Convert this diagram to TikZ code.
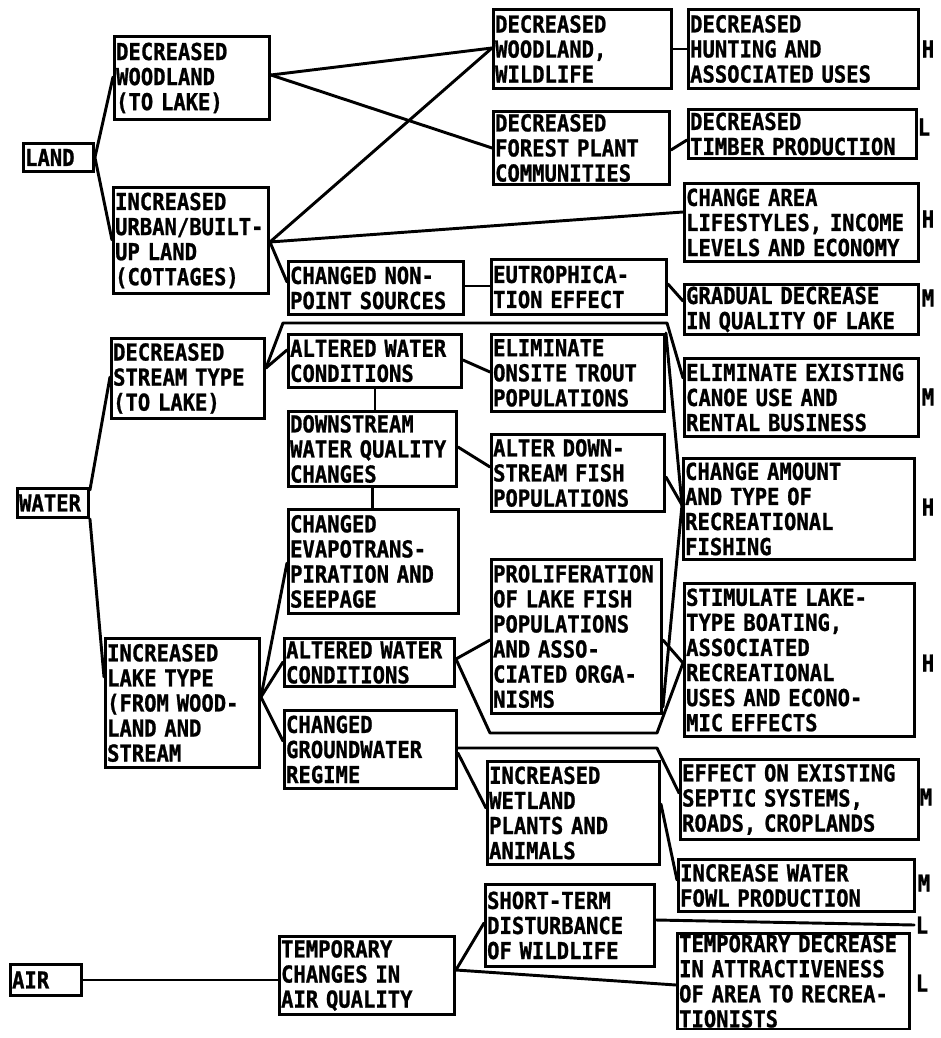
\documentclass[tikz,border=0pt]{standalone}
\usepackage{fontspec}
\newfontfamily\boxfont{DejaVu Sans Mono}[FakeStretch=0.88, BoldFeatures={FakeBold=1}]
\usetikzlibrary{calc}
\tikzset{
  box/.style={draw, line width=2.2pt, rectangle, inner xsep=1pt, inner ysep=1pt,
    align=left, anchor=north west,
    font=\boxfont\bfseries\fontsize{17.5}{18.8}\selectfont},
  conn/.style={line width=2.2pt, line join=round, line cap=round},
  rate/.style={inner sep=1pt, font=\boxfont\bfseries\fontsize{17.5}{18.8}\selectfont}
}
\newcommand\mkbox[6]{%
  \pgfmathsetlengthmacro\mkw{(#4)*0.75pt-2.5pt}%
  \node[box, minimum width={(#4)*0.75pt}, minimum height={(#5)*0.75pt}, text width=\mkw] (#1) at (#2,#3) {#6};}
\begin{document}
\begin{tikzpicture}[x=0.75pt,y=-0.75pt]
\useasboundingbox (0,0) rectangle (940,1038);
% column 0
\mkbox{land}{22}{142}{70}{28}{LAND}
\mkbox{water}{16}{487}{71}{29}{WATER}
\mkbox{air}{9}{963}{71}{31}{AIR}
% column 1
\mkbox{wooda}{113}{35}{155}{83}{DECREASED\\WOODLAND\\(TO LAKE)}
\mkbox{urban}{112}{186}{155}{106}{INCREASED\\URBAN/BUILT-\\UP LAND\\(COTTAGES)}
\mkbox{stream}{110}{337}{153}{80}{DECREASED\\STREAM TYPE\\(TO LAKE)}
\mkbox{lake}{104}{637}{154}{129}{INCREASED\\LAKE TYPE\\(FROM WOOD-\\LAND AND\\STREAM}
% column 2
\mkbox{nonpoint}{287}{260}{175}{53}{CHANGED NON-\\POINT SOURCES}
\mkbox{alta}{287}{333}{173}{53}{ALTERED WATER\\CONDITIONS}
\mkbox{down}{287}{410}{168}{75}{DOWNSTREAM\\WATER QUALITY\\CHANGES}
\mkbox{evap}{287}{508}{170}{104}{CHANGED\\EVAPOTRANS-\\PIRATION AND\\SEEPAGE}
\mkbox{altb}{283}{637}{170}{48}{ALTERED WATER\\CONDITIONS}
\mkbox{ground}{283}{709}{172}{78}{CHANGED\\GROUNDWATER\\REGIME}
\mkbox{tempair}{278}{935}{175}{78}{TEMPORARY\\CHANGES IN\\AIR QUALITY}
% column 3
\mkbox{woodwild}{492}{8}{178}{79}{DECREASED\\WOODLAND,\\WILDLIFE}
\mkbox{forest}{492}{110}{176}{73}{DECREASED\\FOREST PLANT\\COMMUNITIES}
\mkbox{eutro}{490}{258}{175}{55}{EUTROPHICA-\\TION EFFECT}
\mkbox{trout}{490}{333}{173}{77}{ELIMINATE\\ONSITE TROUT\\POPULATIONS}
\mkbox{afish}{490}{433}{173}{77}{ALTER DOWN-\\STREAM FISH\\POPULATIONS}
\mkbox{prolif}{490}{558}{170}{154}{PROLIFERATION\\OF LAKE FISH\\POPULATIONS\\AND ASSO-\\CIATED ORGA-\\NISMS}
\mkbox{wetland}{486}{760}{172}{103}{INCREASED\\WETLAND\\PLANTS AND\\ANIMALS}
\mkbox{short}{484}{883}{169}{82}{SHORT-TERM\\DISTURBANCE\\OF WILDLIFE}
% column 4
\mkbox{hunt}{687}{8}{230}{79}{DECREASED\\HUNTING AND\\ASSOCIATED USES}
\mkbox{timber}{687}{108}{228}{49}{DECREASED\\TIMBER PRODUCTION}
\mkbox{life}{683}{182}{234}{78}{CHANGE AREA\\LIFESTYLES, INCOME\\LEVELS AND ECONOMY}
\mkbox{grad}{683}{283}{234}{50}{GRADUAL DECREASE\\IN QUALITY OF LAKE}
\mkbox{canoe}{683}{357}{234}{78}{ELIMINATE EXISTING\\CANOE USE AND\\RENTAL BUSINESS}
\mkbox{fishing}{682}{457}{231}{101}{CHANGE AMOUNT\\AND TYPE OF\\RECREATIONAL\\FISHING}
\mkbox{boat}{683}{582}{230}{153}{STIMULATE LAKE-\\TYPE BOATING,\\ASSOCIATED\\RECREATIONAL\\USES AND ECONO-\\MIC EFFECTS}
\mkbox{septic}{679}{758}{238}{80}{EFFECT ON EXISTING\\SEPTIC SYSTEMS,\\ROADS, CROPLANDS}
\mkbox{fowl}{677}{858}{236}{52}{INCREASE WATER\\FOWL PRODUCTION}
\mkbox{tempdec}{676}{932}{232}{90}{TEMPORARY DECREASE\\IN ATTRACTIVENESS\\OF AREA TO RECREA-\\TIONISTS}
% ratings
\node[rate] (r1) at (928,49) {H};
\node[rate] (r2) at (924,127) {L};
\node[rate] (r3) at (928,219) {H};
\node[rate] (r4) at (928,298) {M};
\node[rate] (r5) at (928,397) {M};
\node[rate] (r6) at (928,507) {H};
\node[rate] (r7) at (928,663) {H};
\node[rate] (r8) at (926,797) {M};
\node[rate] (r9) at (924,883) {M};
\node[rate] (r10) at (922,925) {L};
\node[rate] (r11) at (922,983) {L};
% bend coordinates
\coordinate (sa) at (283,323);
\coordinate (sb) at (667,323);
\coordinate (ba) at (490,733);
\coordinate (bb) at (657,733);
\coordinate (ga) at (657,748);
% connectors
\draw[conn] (land.east) -- ($(wooda.north west)+(0,42)$);
\draw[conn] (land.east) -- ($(urban.north west)+(0,54)$);
\draw[conn] ($(wooda.north east)+(0,40)$) -- ($(woodwild.north west)+(0,40)$);
\draw[conn] ($(wooda.north east)+(0,40)$) -- ($(forest.north west)+(0,38)$);
\draw[conn] ($(urban.north east)+(0,56)$) -- ($(woodwild.north west)+(0,40)$);
\draw[conn] ($(urban.north east)+(0,56)$) -- ($(life.north west)+(0,30)$);
\draw[conn] ($(urban.north east)+(0,56)$) -- ($(nonpoint.north west)+(0,22)$);
\draw[conn] ($(nonpoint.north east)+(0,26)$) -- ($(eutro.north west)+(0,28)$);
\draw[conn] ($(eutro.north east)+(0,26)$) -- ($(grad.north west)+(0,18)$);
\draw[conn] ($(woodwild.north east)+(0,41)$) -- ($(hunt.north west)+(0,41)$);
\draw[conn] ($(forest.north east)+(0,40)$) -- ($(timber.north west)+(0,32)$);
\draw[conn] ($(water.north east)+(0,3)$) -- ($(stream.north west)+(0,40)$);
\draw[conn] (water.south east) -- ($(lake.north west)+(0,40)$);
\draw[conn] ($(stream.north east)+(0,31)$) -- ($(alta.north west)+(0,17)$);
\draw[conn] ($(stream.north east)+(0,31)$) -- (sa) -- (sb) -- ($(canoe.north west)+(0,21)$);
\draw[conn] ($(alta.north east)+(0,27)$) -- ($(trout.north west)+(0,39)$);
\draw[conn] (alta.south) -- (alta.south |- down.north);
\draw[conn] ($(down.north east)+(0,37)$) -- ($(afish.north west)+(0,34)$);
\draw[conn] (down.south) -- (down.south |- evap.north);
\draw[conn] (trout.north east) -- ($(fishing.north west)+(0,48)$);
\draw[conn] ($(afish.north east)+(0,44)$) -- ($(fishing.north west)+(0,48)$);
\draw[conn] ($(prolif.south east)+(0,-8)$) -- ($(fishing.north west)+(0,48)$);
\draw[conn] ($(lake.north east)+(0,60)$) -- ($(evap.north west)+(0,55)$);
\draw[conn] ($(lake.north east)+(0,60)$) -- ($(altb.north west)+(0,25)$);
\draw[conn] ($(lake.north east)+(0,60)$) -- ($(ground.north west)+(0,32)$);
\draw[conn] ($(altb.north east)+(0,22)$) -- ($(prolif.north west)+(0,82)$);
\draw[conn] ($(altb.north east)+(0,22)$) -- (ba) -- (bb) -- ($(boat.north west)+(0,81)$);
\draw[conn] ($(prolif.north east)+(0,82)$) -- ($(boat.north west)+(0,81)$);
\draw[conn] ($(ground.north east)+(0,39)$) -- (ga) -- ($(septic.north west)+(0,35)$);
\draw[conn] ($(ground.north east)+(0,44)$) -- ($(wetland.north west)+(0,48)$);
\draw[conn] ($(wetland.north east)+(0,44)$) -- ($(fowl.north west)+(0,22)$);
\draw[conn] (air.east) -- (air.east -| tempair.west);
\draw[conn] ($(tempair.north east)+(0,35)$) -- ($(short.north west)+(0,40)$);
\draw[conn] ($(tempair.north east)+(0,35)$) -- ($(tempdec.north west)+(0,53)$);
\draw[conn] ($(short.north east)+(0,37)$) -- (r10.west);
\end{tikzpicture}
\end{document}
